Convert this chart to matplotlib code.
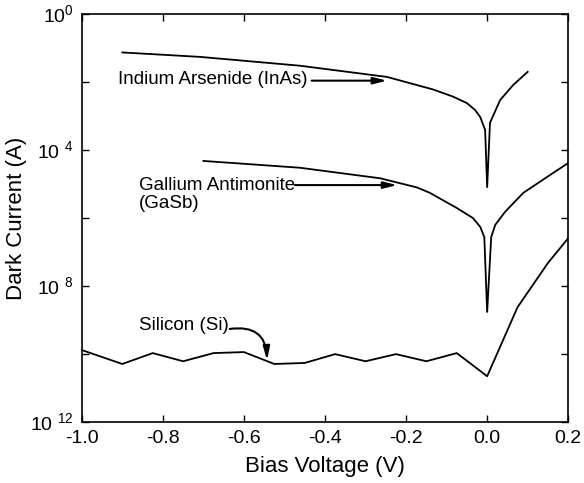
import numpy as np
import matplotlib
matplotlib.use("Agg")
import matplotlib.pyplot as plt
from matplotlib.ticker import FixedLocator, FixedFormatter, NullLocator

plt.rcParams['font.family'] = ['Liberation Sans', 'DejaVu Sans']
plt.rcParams['mathtext.fontset'] = 'custom'
plt.rcParams['mathtext.rm'] = 'Liberation Sans'
plt.rcParams['axes.unicode_minus'] = False

# dark current curves (log10 of current in A)
inas_v = [-0.9, -0.709, -0.462, -0.247, -0.133, -0.084, -0.05, -0.03, -0.017, -0.005, 0.0,
          0.007, 0.032, 0.064, 0.1]
inas_log = [-1.13, -1.26, -1.52, -1.85, -2.22, -2.43, -2.62, -2.82, -3.03, -3.41, -5.09,
            -3.2, -2.53, -2.09, -1.7]

gasb_v = [-0.70, -0.462, -0.264, -0.173, -0.141, -0.074, -0.035, -0.017, -0.007, 0.0,
          0.01, 0.02, 0.044, 0.089, 0.148, 0.2]
gasb_log = [-4.32, -4.52, -4.83, -5.10, -5.26, -5.71, -6.0, -6.26, -6.56, -8.76,
            -6.56, -6.2, -5.82, -5.26, -4.79, -4.38]

si_v = [-1.0, -0.9, -0.825, -0.75, -0.675, -0.6, -0.525, -0.45, -0.375, -0.3,
        -0.225, -0.15, -0.075, 0.0, 0.075, 0.15, 0.2]
si_log = [-9.88, -10.29, -9.97, -10.21, -9.97, -9.94, -10.29, -10.26, -10.0, -10.21,
          -10.0, -10.21, -9.97, -10.65, -8.62, -7.32, -6.59]

xticks = [-1.0, -0.8, -0.6, -0.4, -0.2, 0.0, 0.2]
xtick_labels = ['-1.0', '-0.8', '-0.6', '-0.4', '-0.2', '0.0', '0.2']
ytick_exp = [0, -2, -4, -6, -8, -10, -12]
ytick_labels = [r'10$^{0}$', '', r'10 $^{4}$', '', r'10 $^{8}$', '', r'10 $^{12}$']

fig = plt.figure(figsize=(5.84, 4.83), dpi=100)
ax = fig.add_axes([0.140, 0.126, 0.833, 0.845])

ax.plot(inas_v, 10.0 ** np.array(inas_log), color='black', lw=1.3)
ax.plot(gasb_v, 10.0 ** np.array(gasb_log), color='black', lw=1.3)
ax.plot(si_v, 10.0 ** np.array(si_log), color='black', lw=1.3)

ax.set_yscale('log')
ax.set_xlim(-1.0, 0.2)
ax.set_ylim(1e-12, 1)

ax.xaxis.set_major_locator(FixedLocator(xticks))
ax.xaxis.set_major_formatter(FixedFormatter(xtick_labels))
ax.yaxis.set_major_locator(FixedLocator([10.0 ** e for e in ytick_exp]))
ax.yaxis.set_major_formatter(FixedFormatter(ytick_labels))
ax.yaxis.set_minor_locator(NullLocator())
ax.tick_params(direction='in', top=True, right=True, length=5, width=1,
               labelsize=14, pad=6)
for s in ax.spines.values():
    s.set_linewidth(1.2)

ax.set_xlabel('Bias Voltage (V)', fontsize=16, labelpad=6)
ax.set_ylabel('Dark Current (A)', fontsize=16)
ax.yaxis.set_label_coords(-0.113, 0.5)

arrow = dict(arrowstyle='-|>,head_length=0.8,head_width=0.2', color='black',
             lw=1.5, shrinkA=0, shrinkB=0)

ax.text(-0.91, 10 ** -1.94, 'Indium Arsenide (InAs)', fontsize=13.5, va='center', ha='left')
ax.annotate('', xy=(-0.247, 10 ** -1.96), xytext=(-0.433, 10 ** -1.96), arrowprops=arrow)

ax.text(-0.86, 10 ** -5.03, 'Gallium Antimonite', fontsize=13.5, va='center', ha='left')
ax.text(-0.86, 10 ** -5.58, '(GaSb)', fontsize=13.5, va='center', ha='left')
ax.annotate('', xy=(-0.222, 10 ** -5.03), xytext=(-0.474, 10 ** -5.03), arrowprops=arrow)

ax.text(-0.86, 10 ** -9.15, 'Silicon (Si)', fontsize=13.5, va='center', ha='left')
ax.annotate('', xy=(-0.543, 10 ** -10.18), xytext=(-0.635, 10 ** -9.26),
            arrowprops=dict(arrow, connectionstyle='arc3,rad=-0.55'))

fig.savefig('out.png', dpi=100)
